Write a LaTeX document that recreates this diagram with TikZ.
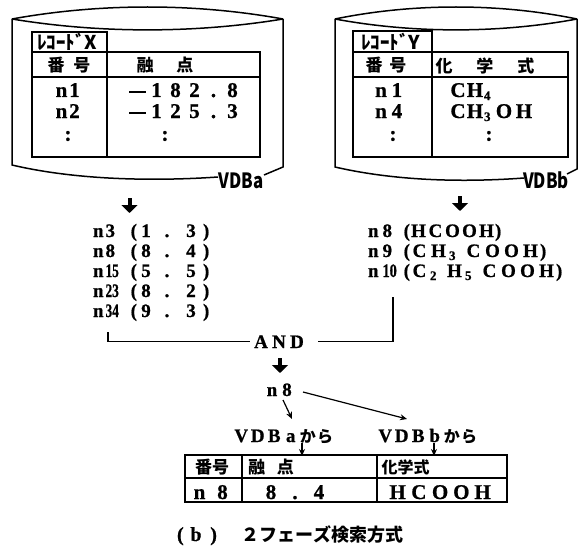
\documentclass[tikz,border=0pt]{standalone}
\usepackage{fontspec}
\usepackage{graphicx}
\setmainfont{Liberation Serif}[BoldFeatures={FakeBold=0.8}]
\newfontfamily\jp{Noto Sans CJK JP}
\usetikzlibrary{arrows.meta}
\newcommand\pb[2][17pt]{\makebox[#1]{#2}}
\newcommand\sbx[1]{\makebox[16pt][l]{\hspace{1pt}\raisebox{-3pt}{\fontsize{13}{13}\selectfont #1}}}
\newcommand\latf[1]{\fontsize{#1}{#1}\selectfont\bfseries}
\newcommand\jpf[1]{\jp\fontsize{#1}{#1}\selectfont\bfseries}
\newcommand\lrow[3]{\makebox[30pt][l]{n\hspace{2pt}#1}\makebox[14pt][r]{(}\pb[18pt]{#2}\pb[24pt]{.}\pb[24pt]{#3}\makebox[8pt][l]{)}}
\newcommand\rrow[2]{\makebox[32pt][l]{n\hspace{4pt}#1}\makebox[10pt][r]{(}#2\makebox[8pt][l]{)}}
\newcommand\mns{\pb[19pt]{\rule[4.5pt]{17pt}{2pt}}}
\begin{document}
\begin{tikzpicture}[x=1pt,y=-1pt,
  every node/.style={inner sep=0pt,outer sep=0pt},
  cyl/.style={line width=1.5pt},
  tbl/.style={line width=2pt},
  conn/.style={line width=1.3pt},
  fat/.style={line width=4pt,-{Triangle[width=16pt,length=8pt]}},
  thinarr/.style={line width=1.2pt,-{Stealth[length=7pt,width=6pt]}},
  lat/.style={anchor=base west,font=\latf{19}},
  tnum/.style={anchor=base west,font=\latf{21}},
  jph/.style={font=\jpf{17}},
  rec/.style={font=\jpf{19}},
  vdb/.style={font=\jpf{21}}]
\useasboundingbox[fill=white] (0,0) rectangle (579,551);

% ---- cylinder VDBa
\draw[cyl] (12,19) .. controls (100,3) and (195,3) .. (283,19);
\draw[cyl] (12,19) .. controls (100,33.5) and (195,33.5) .. (283,19);
\draw[cyl] (12,19) -- (12,165) .. controls (80,181) and (160,181) .. (218,177);
\draw[cyl] (264,175) -- (283,167) -- (283,19);
\node[vdb] (vdba) at (241,181) {\scalebox{0.8}[1]{VDBa}};

% ---- cylinder VDBb
\draw[cyl] (335,19) .. controls (413,3) and (499,3) .. (577,19);
\draw[cyl] (335,19) .. controls (413,33.5) and (499,33.5) .. (577,19);
\draw[cyl] (335,19) -- (335,167) .. controls (400,182) and (470,182) .. (524,178);
\draw[cyl] (567,174) -- (577,169) -- (577,19);
\node[vdb] (vdbb) at (546,180) {\scalebox{0.8}[1]{VDBb}};

% ---- table X
\draw[tbl] (32,32) rectangle (107,52);
\draw[tbl] (32,52) rectangle (260,157);
\draw[tbl] (32,77) -- (260,77);
\draw[tbl] (107,52) -- (107,157);
\node[rec] (recx) at (67,42) {ﾚｺｰﾄﾞX};
\node[jph] (hxa) at (69,65.5) {\pb[26pt]{番}\pb[26pt]{号}};
\node[jph] (hxb) at (165,65.5) {\pb[40pt]{融}\pb[40pt]{点}};
\node[tnum] (xn1) at (55,97) {\pb[13pt]{n}\pb[13pt]{1}};
\node[tnum] (xn2) at (55,118) {\pb[13pt]{n}\pb[13pt]{2}};
\node[font=\latf{21}] (xd1) at (68,136) {:};
\node[tnum] (xv1) at (128,97) {\mns\pb[19pt]{1}\pb[19pt]{8}\pb[19pt]{2}\pb[19pt]{.}\pb[19pt]{8}};
\node[tnum] (xv2) at (128,118) {\mns\pb[19pt]{1}\pb[19pt]{2}\pb[19pt]{5}\pb[19pt]{.}\pb[19pt]{3}};
\node[font=\latf{21}] (xd2) at (165,136) {:};

% ---- table Y
\draw[tbl] (353,31) rectangle (432,52);
\draw[tbl] (353,52) rectangle (568,157);
\draw[tbl] (353,77) -- (568,77);
\draw[tbl] (432,52) -- (432,157);
\node[rec] (recy) at (391,41.5) {ﾚｺｰﾄﾞY};
\node[jph] (hya) at (386,65.5) {\pb[24pt]{番}\pb[24pt]{号}};
\node[jph] (hyb) at (485,65.5) {\pb[41pt]{化}\pb[41pt]{学}\pb[41pt]{式}};
\node[tnum] (yn1) at (373,97) {\pb[16pt]{n}\pb[16pt]{1}};
\node[tnum] (yn2) at (373,118) {\pb[16pt]{n}\pb[16pt]{4}};
\node[font=\latf{21}] (yd1) at (393,136) {:};
\node[tnum] (yv1) at (450,97) {\pb[16pt]{C}\pb[18pt]{H}\makebox[10pt][l]{\raisebox{-3pt}{\fontsize{13}{13}\selectfont 4}}};
\node[tnum] (yv2) at (450,118) {\pb[16pt]{C}\pb[18pt]{H}\makebox[10pt][l]{\raisebox{-3pt}{\fontsize{13}{13}\selectfont 3}}\pb[20pt]{O}\pb[20pt]{H}};
\node[font=\latf{21}] (yd2) at (489,136) {:};

% ---- fat arrows from databases
\coordinate (fa1) at (129.5,198); \coordinate (fa1e) at (129.5,213);
\coordinate (fb1) at (460,196);   \coordinate (fb1e) at (460,211);
\draw[fat] (fa1) -- (fa1e);
\draw[fat] (fb1) -- (fb1e);

% ---- list A
\node[lat] (ra1) at (93,237) {\lrow{3}{1}{3}};
\node[lat] (ra2) at (93,257) {\lrow{8}{8}{4}};
\node[lat] (ra3) at (93,277) {\lrow{\scalebox{0.7}[1]{15}}{5}{5}};
\node[lat] (ra4) at (93,297) {\lrow{\scalebox{0.7}[1]{23}}{8}{2}};
\node[lat] (ra5) at (93,317) {\lrow{\scalebox{0.7}[1]{34}}{9}{3}};

% ---- list B
\node[lat] (rb1) at (368,237) {\rrow{8}{\pb{H}\pb{C}\pb{O}\pb{O}\pb{H}}};
\node[lat] (rb2) at (368,257) {\rrow{9}{\pb[19pt]{C}\pb[19pt]{H}\sbx{3}\pb[19pt]{C}\pb[19pt]{O}\pb[19pt]{O}\pb[19pt]{H}}};
\node[lat] (rb3) at (368,277) {\rrow{\scalebox{0.75}[1]{10}}{\pb[19pt]{C}\sbx{2}\pb[19pt]{H}\sbx{5}\pb[19pt]{C}\pb[19pt]{O}\pb[19pt]{O}\pb[19pt]{H}}};

% ---- AND
\node[lat] (and) at (252,348) {\pb[18pt]{A}\pb[18pt]{N}\pb[18pt]{D}};
\coordinate (brA) at (108,332);
\coordinate (brB) at (393,297);
\draw[conn] (brA) |- ([xshift=-2pt]and.west);
\draw[conn] (brB) |- ([xshift=12pt]and.east);
\coordinate (fc1) at (280,358); \coordinate (fc1e) at (280,373);
\draw[fat] (fc1) -- (fc1e);

% ---- n8
\node[lat] (n8) at (265,396) {\pb[14pt]{n}\pb[16pt]{8}};
\coordinate (t1s) at (283,400); \coordinate (t1e) at (292,419);
\coordinate (t2s) at (303,392); \coordinate (t2e) at (407,419);
\draw[thinarr] (t1s) -- (t1e);
\draw[thinarr] (t2s) -- (t2e);

\node[lat] (fra) at (233,442) {\pb[16.5pt]{V}\pb[16.5pt]{D}\pb[16.5pt]{B}\pb[16.5pt]{a}{\jpf{16}\pb[17.5pt]{か}\pb[17.5pt]{ら}}};
\node[lat] (frb) at (377,442) {\pb[16.5pt]{V}\pb[16.5pt]{D}\pb[16.5pt]{B}\pb[16.5pt]{b}{\jpf{16}\pb[17.5pt]{か}\pb[17.5pt]{ら}}};
\coordinate (s1s) at (302,443); \coordinate (s1e) at (302,456);
\coordinate (s2s) at (434,443); \coordinate (s2e) at (434,456);
\draw[thinarr] (s1s) -- (s1e);
\draw[thinarr] (s2s) -- (s2e);

% ---- result table
\draw[tbl] (185,455) rectangle (507,502);
\draw[tbl] (185,478) -- (507,478);
\draw[tbl] (242,455) -- (242,502);
\draw[tbl] (377,455) -- (377,502);
\node[jph] (rh1) at (212,467) {番号};
\node[jph] (rh2) at (271,467) {\pb[29pt]{融}\pb[29pt]{点}};
\node[font=\jpf{16}] (rh3) at (405.5,467) {化学式};
\node[tnum] (rv1) at (188,499) {\pb[23pt]{n}\pb[23pt]{8}};
\node[tnum] (rv2) at (259,499) {\pb[24pt]{8}\pb[24pt]{.}\pb[24pt]{4}};
\node[tnum] (rv3) at (387,499) {\pb[21.25pt]{H}\pb[21.25pt]{C}\pb[21.25pt]{O}\pb[21.25pt]{O}\pb[21.25pt]{H}};

% ---- caption
\node[anchor=base west,font=\latf{20}] (capa) at (177,541) {\makebox[8pt][l]{(}\makebox[22pt]{b}\makebox[10pt][r]{)}};
\node[font=\jpf{18}] (capb) at (322.5,535) {２フェーズ検索方式};
\end{tikzpicture}
\end{document}
